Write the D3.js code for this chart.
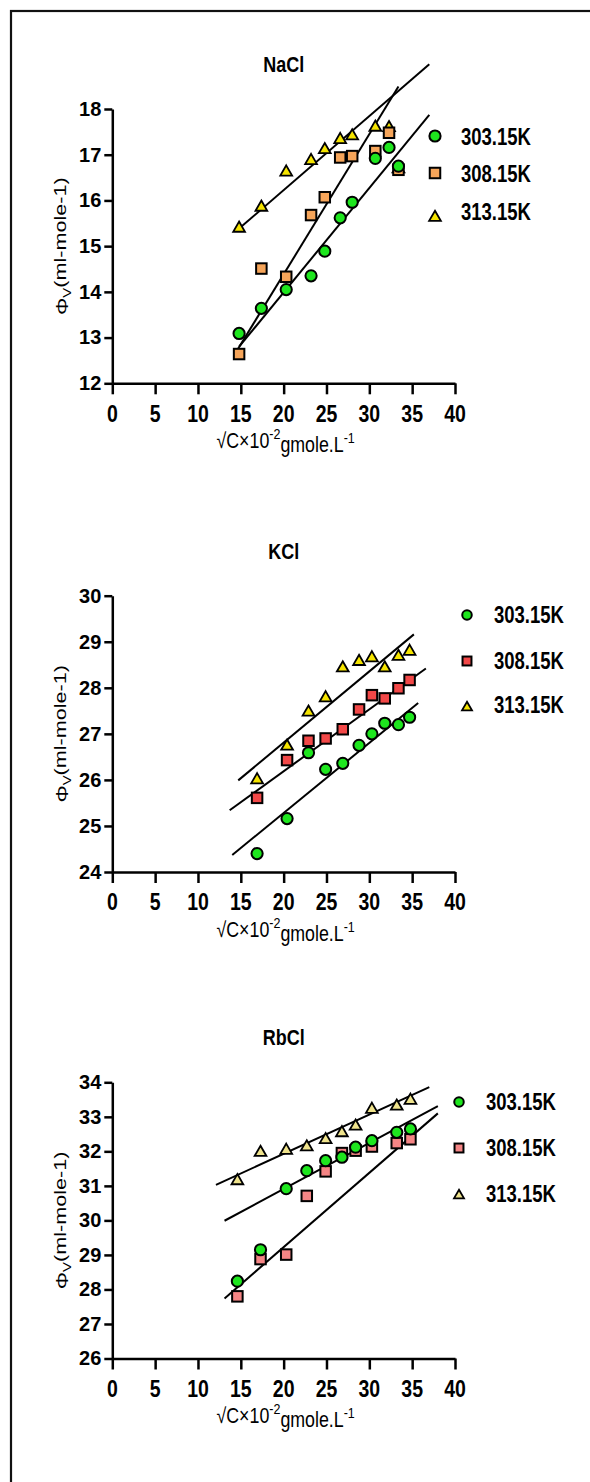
<!DOCTYPE html>
<html>
<head>
<meta charset="utf-8">
<script src="https://cdn.jsdelivr.net/npm/d3@7"></script>
<style>
body { margin: 0; background: #fff; }
svg { display: block; font-family: "Liberation Sans", Arial, sans-serif; }
</style>
</head>
<body>
<div id="wrapper"></div>
<script>
// ---- data ----
const xTicks = [0, 5, 10, 15, 20, 25, 30, 35, 40];
const tempLabels = ["303.15K", "308.15K", "313.15K"];
const saltNames = ["NaCl", "KCl", "RbCl"];

const naclYTicks = [12, 13, 14, 15, 16, 17, 18];
const kclYTicks = [24, 25, 26, 27, 28, 29, 30];
const rbclYTicks = [26, 27, 28, 29, 30, 31, 32, 33, 34];

// NaCl
const naclConc = [14.8, 17.4, 20.3, 23.2, 24.8, 26.6, 28.0, 30.7, 32.3, 33.4];
const nacl303 = [13.09, 13.64, 14.05, 14.35, 14.89, 15.62, 15.96, 16.92, 17.16, 16.75];
const nacl308 = [12.64, 14.51, 14.33, 15.68, 16.07, 16.94, 16.97, 17.08, 17.48, 16.67];
const nacl313 = [15.40, 15.86, 16.63, 16.88, 17.12, 17.34, 17.42, 17.61, 17.60, 16.70];
// fitted lines: [x0, y0, x1, y1]
const naclFit303 = [14.8, 12.8, 37.0, 17.87];
const naclFit308 = [14.7, 12.76, 33.4, 18.49];
const naclFit313 = [14.9, 15.40, 37.0, 18.98];

// KCl
const kclConc = [16.9, 20.4, 22.9, 24.9, 26.9, 28.8, 30.3, 31.8, 33.4, 34.7];
const kcl303 = [24.4, 25.16, 26.59, 26.23, 26.36, 26.75, 27.0, 27.23, 27.20, 27.36];
const kcl308 = [25.61, 26.43, 26.85, 26.90, 27.10, 27.53, 27.84, 27.77, 27.99, 28.17];
const kcl313 = [26.01, 26.74, 27.48, 27.79, 28.44, 28.58, 28.66, 28.44, 28.69, 28.80];
const kclFit303 = [14.0, 24.37, 35.7, 27.67];
const kclFit308 = [13.7, 25.34, 36.6, 28.42];
const kclFit313 = [14.7, 25.99, 35.2, 29.16];

// RbCl
const rbclConc = [14.6, 17.3, 20.3, 22.7, 24.9, 26.8, 28.4, 30.3, 33.2, 34.8];
const rbcl303 = [28.24, 29.15, 30.92, 31.44, 31.73, 31.83, 32.12, 32.31, 32.55, 32.65];
const rbcl308 = [27.80, 28.88, 29.01, 30.71, 31.42, 31.95, 32.02, 32.14, 32.24, 32.35];
const rbcl313 = [31.16, 31.98, 32.04, 32.14, 32.35, 32.55, 32.74, 33.23, 33.32, 33.49];
const rbclFit303 = [13.1, 29.99, 38.0, 33.31];
const rbclFit308 = [13.1, 27.74, 38.0, 33.10];
const rbclFit313 = [12.1, 31.03, 37.0, 33.86];

function drawChart() {
  const width = 590, height = 1482;
  const xLeft = 112.3, xRight = 455;

  const panels = [
    { name: saltNames[0], yTicks: naclYTicks, conc: naclConc, series: [nacl303, nacl308, nacl313], fits: [naclFit303, naclFit308, naclFit313] },
    { name: saltNames[1], yTicks: kclYTicks, conc: kclConc, series: [kcl303, kcl308, kcl313], fits: [kclFit303, kclFit308, kclFit313] },
    { name: saltNames[2], yTicks: rbclYTicks, conc: rbclConc, series: [rbcl303, rbcl308, rbcl313], fits: [rbclFit303, rbclFit308, rbclFit313] },
  ];

  // where each panel sits on the page
  const layout = [
    { top: 109, bottom: 383.3, legX: 435, legY: [136, 173, 217], textX: 461, textY: [136.5, 174, 212], legK: 1, square: "#f6a55a", tri: "#f5e400" },
    { top: 595.7, bottom: 872, legX: 467, legY: [615, 661, 707], textX: 494, textY: [615, 661, 705], legK: 0.85, square: "#f24848", tri: "#f5e400" },
    { top: 1082.3, bottom: 1358.5, legX: 459, legY: [1102, 1148, 1195], textX: 486, textY: [1102, 1148, 1194], legK: 0.85, square: "#f58585", tri: "#efe38c" },
  ];
  const circleColor = "#1ee61e";

  const svg = d3.select("#wrapper").append("svg")
    .attr("width", width)
    .attr("height", height);

  // outer frame
  svg.append("rect")
    .attr("x", 11).attr("y", 11)
    .attr("width", 700).attr("height", 1600)
    .attr("fill", "none")
    .attr("stroke", "#111")
    .attr("stroke-width", 2.2);

  const xScale = d3.scaleLinear().domain([0, 40]).range([xLeft, xRight]);

  // marker drawing helper
  function marker(g, shape, fill, x, y, k) {
    k = k || 1;
    if (shape === 0) {
      g.append("circle").attr("cx", x).attr("cy", y).attr("r", 5.6 * k)
        .attr("fill", fill).attr("stroke", "#000").attr("stroke-width", 2);
    } else if (shape === 1) {
      const s = 10.5 * k;
      g.append("rect").attr("x", x - s / 2).attr("y", y - s / 2).attr("width", s).attr("height", s)
        .attr("fill", fill).attr("stroke", "#000").attr("stroke-width", 2);
    } else {
      g.append("path")
        .attr("d", d3.symbol().type(d3.symbolTriangle).size(60 * k * k)())
        .attr("transform", `translate(${x},${y + 0.5})`)
        .attr("fill", fill).attr("stroke", "#000").attr("stroke-width", 1.8);
    }
  }

  // stretched bold text helper
  function label(g, txt, x, y, size, sy, anchor, weight) {
    g.append("text")
      .attr("transform", `translate(${x},${y}) scale(1,${sy})`)
      .attr("text-anchor", anchor)
      .attr("dy", "0.36em")
      .attr("font-size", size)
      .attr("font-weight", weight || "bold")
      .attr("fill", "#000")
      .text(txt);
  }

  panels.forEach((p, i) => {
    const L = layout[i];
    const g = svg.append("g");
    const yScale = d3.scaleLinear()
      .domain(d3.extent(p.yTicks))
      .range([L.bottom, L.top]);
    const colors = [circleColor, L.square, L.tri];

    // title
    label(g, p.name, (xLeft + xRight) / 2, L.top - 45, 18, 1.22, "middle");

    // fitted lines
    p.fits.forEach(f => {
      g.append("line")
        .attr("x1", xScale(f[0])).attr("y1", yScale(f[1]))
        .attr("x2", xScale(f[2])).attr("y2", yScale(f[3]))
        .attr("stroke", "#000").attr("stroke-width", 2);
    });

    // points: triangles under squares under circles
    [2, 1, 0].forEach(s => {
      p.series[s].forEach((v, j) => {
        marker(g, s, colors[s], xScale(p.conc[j]), yScale(v));
      });
    });

    // y axis
    const yAxis = g.append("g")
      .attr("transform", `translate(${xLeft},0)`)
      .call(d3.axisLeft(yScale).tickValues(p.yTicks).tickFormat(d3.format("d"))
        .tickSize(8).tickSizeOuter(0).tickPadding(3));
    yAxis.select(".domain").attr("stroke-width", 2.5);
    yAxis.selectAll(".tick line").attr("stroke-width", 2.5);
    yAxis.selectAll(".tick text")
      .attr("font-size", 20).attr("font-weight", "bold")
      .attr("font-family", "Liberation Sans, Arial, sans-serif").attr("fill", "#000");

    // x axis
    const xAxis = g.append("g")
      .attr("transform", `translate(0,${L.bottom})`)
      .call(d3.axisBottom(xScale).tickValues(xTicks).tickSize(11).tickSizeOuter(0).tickFormat(""));
    xAxis.select(".domain").attr("stroke-width", 2.5);
    xAxis.selectAll(".tick line").attr("stroke-width", 2.5);
    xTicks.forEach(t => label(g, t, xScale(t), L.bottom + 30, 19.5, 1.18, "middle"));

    // y axis title
    const yt = g.append("text")
      .attr("transform", `translate(62,${(L.top + L.bottom) / 2}) rotate(-90) scale(1.35,1)`)
      .attr("text-anchor", "middle")
      .attr("dy", "0.36em")
      .attr("font-size", 16);
    yt.append("tspan").text("Φ");
    yt.append("tspan").attr("font-size", 11).attr("dy", "0.3em").text("V");
    yt.append("tspan").attr("dy", "-0.3em").text("(ml-mole-1)");

    // x axis title
    const xt = g.append("text")
      .attr("transform", `translate(${(xLeft + xRight) / 2 + 2},${L.bottom + 57}) scale(1,1.2)`)
      .attr("text-anchor", "middle")
      .attr("dy", "0.36em")
      .attr("font-size", 17.8);
    xt.append("tspan").text("√C×10");
    xt.append("tspan").attr("font-size", 12.5).attr("dy", "-0.6em").text("-2");
    xt.append("tspan").attr("dy", "0.6em").text("gmole.L");
    xt.append("tspan").attr("font-size", 12.5).attr("dy", "-0.6em").text("-1");

    // legend
    tempLabels.forEach((t, s) => {
      marker(g, s, colors[s], L.legX, L.legY[s], L.legK);
      label(g, t, L.textX, L.textY[s], 18.5, 1.25, "start");
    });
  });
}

drawChart();
</script>
</body>
</html>
